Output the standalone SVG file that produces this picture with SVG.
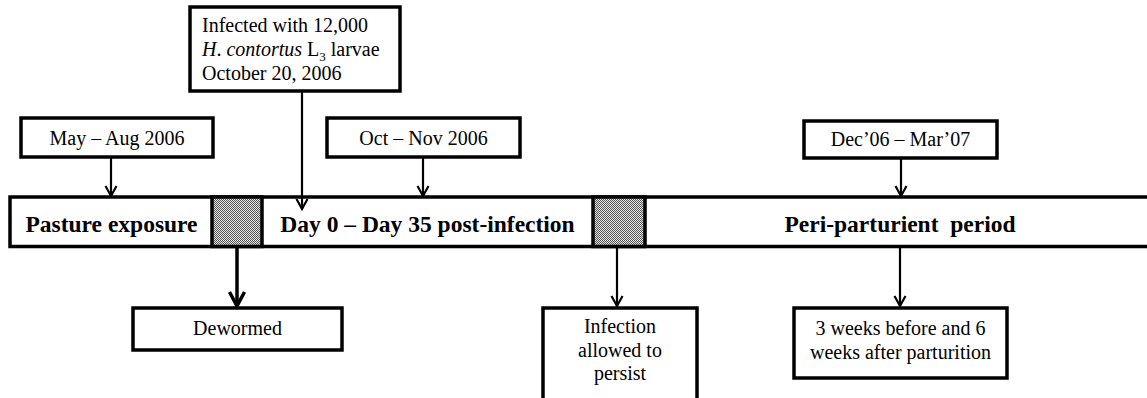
<svg xmlns="http://www.w3.org/2000/svg" width="1147" height="398" viewBox="0 0 1147 398">
<style>
.box{fill:#fff;stroke:#000;stroke-width:3.5}
.bar{fill:#fff;stroke:#000;stroke-width:3.5}
.t{font-family:"Liberation Serif","Times New Roman",serif;font-size:20px;fill:#000}
.c{text-anchor:middle}
.b{font-family:"Liberation Serif","Times New Roman",serif;font-size:23.5px;font-weight:bold;fill:#000;text-anchor:middle;white-space:pre}
.ln{fill:none;stroke:#000;stroke-width:2.2}
.lt{fill:none;stroke:#000;stroke-width:3.5}
</style>
<defs>
<pattern id="hatch" width="2" height="2" patternUnits="userSpaceOnUse">
<rect width="2" height="2" fill="#e6e6e6"/>
<rect width="1" height="1" fill="#555"/>
<rect x="1" y="1" width="1" height="1" fill="#555"/>
</pattern>
<marker id="ah" markerUnits="userSpaceOnUse" markerWidth="16" markerHeight="16" refX="11" refY="8" orient="auto" viewBox="0 0 16 16">
<path d="M1,2.5 L11,8 L1,13.5" fill="none" stroke="#000" stroke-width="2.2"/>
</marker>
<marker id="ahb" markerUnits="userSpaceOnUse" markerWidth="20" markerHeight="20" refX="15" refY="10" orient="auto" viewBox="0 0 20 20">
<path d="M1,2.5 L15,10 L1,17.5" fill="none" stroke="#000" stroke-width="3.5"/>
</marker>
</defs>

<g id="timeline">
<rect class="bar" x="10" y="197" width="1150" height="49.5"/>
<rect x="212" y="197" width="50" height="49.5" fill="url(#hatch)" stroke="#000" stroke-width="3.5"/>
<rect x="593" y="197" width="52" height="49.5" fill="url(#hatch)" stroke="#000" stroke-width="3.5"/>
<text class="b" x="111.5" y="232">Pasture exposure</text>
<text class="b" x="427.5" y="232">Day 0 – Day 35 post-infection</text>
<text class="b" x="900" y="232">Peri-parturient  period</text>
</g>

<g id="node-infected">
<rect class="box" x="190" y="7" width="210" height="84"/>
<text class="t" x="202" y="32">Infected with 12,000</text>
<text class="t" x="202" y="56"><tspan font-style="italic">H</tspan>. <tspan font-style="italic">contortus</tspan> L<tspan font-size="13" dy="5">3</tspan><tspan dy="-5"> larvae</tspan></text>
<text class="t" x="202" y="80">October 20, 2006</text>
</g>

<g id="node-may">
<rect class="box" x="21" y="118" width="192" height="39"/>
<text class="t c" x="117" y="145">May – Aug 2006</text>
</g>

<g id="node-oct">
<rect class="box" x="327" y="118" width="193" height="39"/>
<text class="t c" x="423.5" y="145">Oct – Nov 2006</text>
</g>

<g id="node-dec">
<rect class="box" x="804" y="121" width="193" height="37"/>
<text class="t c" x="900.5" y="146">Dec’06 – Mar’07</text>
</g>

<g id="node-dewormed">
<rect class="box" x="133" y="308" width="209" height="42"/>
<text class="t c" x="237.5" y="335">Dewormed</text>
</g>

<g id="node-persist">
<rect class="box" x="543" y="308" width="154" height="100"/>
<text class="t c" x="620" y="333">Infection</text>
<text class="t c" x="620" y="357">allowed to</text>
<text class="t c" x="620" y="380">persist</text>
</g>

<g id="node-weeks">
<rect class="box" x="794" y="308" width="213" height="70"/>
<text class="t c" x="900.5" y="335">3 weeks before and 6</text>
<text class="t c" x="900.5" y="359">weeks after parturition</text>
</g>

<g id="connectors">
<path class="ln" d="M111,157 V196" marker-end="url(#ah)"/>
<path class="ln" d="M302,91 V209" marker-end="url(#ah)"/>
<path class="ln" d="M423,157 V196" marker-end="url(#ah)"/>
<path class="ln" d="M901,158 V196" marker-end="url(#ah)"/>
<path class="lt" d="M237,248 V306" marker-end="url(#ahb)"/>
<path class="ln" d="M617,248 V306" marker-end="url(#ah)"/>
<path class="ln" d="M900,248 V306" marker-end="url(#ah)"/>
</g>
</svg>
